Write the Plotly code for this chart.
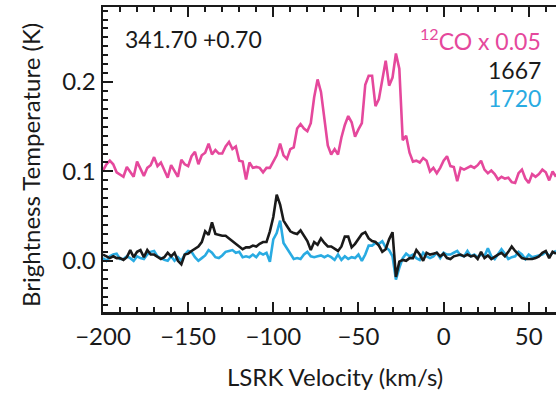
import numpy as np
import plotly.graph_objects as go

velocity = np.arange(-200, 67, 2)  # LSRK velocity (km/s), 134 channels

co12_scaled = [
    0.101, 0.108, 0.112, 0.108, 0.099, 0.096, 0.094, 0.105, 0.099, 0.094,
    0.111, 0.102, 0.095, 0.104, 0.107, 0.116, 0.106, 0.110, 0.101, 0.093,
    0.107, 0.101, 0.094, 0.113, 0.108, 0.106, 0.117, 0.122, 0.108, 0.118,
    0.121, 0.131, 0.119, 0.124, 0.120, 0.120, 0.128, 0.133, 0.125, 0.128,
    0.112, 0.111, 0.091, 0.110, 0.104, 0.105, 0.104, 0.099, 0.104, 0.104,
    0.111, 0.118, 0.131, 0.118, 0.114, 0.125, 0.127, 0.148, 0.153, 0.148,
    0.145, 0.154, 0.183, 0.203, 0.189, 0.158, 0.129, 0.119, 0.125, 0.119,
    0.138, 0.152, 0.162, 0.155, 0.139, 0.147, 0.154, 0.197, 0.207, 0.207,
    0.173, 0.181, 0.205, 0.224, 0.196, 0.205, 0.232, 0.215, 0.135, 0.140,
    0.121, 0.111, 0.112, 0.110, 0.115, 0.112, 0.100, 0.104, 0.098, 0.104,
    0.112, 0.117, 0.106, 0.105, 0.089, 0.104, 0.102, 0.104, 0.106, 0.104,
    0.107, 0.112, 0.102, 0.098, 0.101, 0.097, 0.091, 0.094, 0.092, 0.093,
    0.088, 0.087, 0.098, 0.102, 0.092, 0.087, 0.097, 0.094, 0.097, 0.102,
    0.099, 0.090, 0.100, 0.094,
]

oh1667 = [
    0.007, 0.005, 0.003, 0.005, 0.003, 0.003, 0.001, 0.004, 0.012, 0.004,
    0.010, 0.012, 0.004, 0.012, 0.007, 0.007, 0.004, 0.002, 0.004, 0.009,
    0.005, 0.009, 0.000, -0.004, 0.007, 0.008, 0.011, 0.014, 0.016, 0.021,
    0.033, 0.029, 0.043, 0.030, 0.029, 0.028, 0.028, 0.025, 0.021, 0.019,
    0.016, 0.013, 0.015, 0.015, 0.017, 0.016, 0.019, 0.021, 0.021, 0.033,
    0.049, 0.074, 0.063, 0.045, 0.039, 0.033, 0.031, 0.030, 0.034, 0.028,
    0.022, 0.012, 0.021, 0.018, 0.025, 0.020, 0.016, 0.016, 0.013, 0.011,
    0.016, 0.027, 0.027, 0.015, 0.019, 0.025, 0.030, 0.032, 0.025, 0.022,
    0.021, 0.017, 0.010, 0.013, 0.024, 0.032, -0.018, -0.001, 0.001, 0.000,
    0.003, 0.003, 0.012, 0.007, 0.000, 0.009, 0.007, 0.008, 0.009, 0.005,
    0.008, 0.003, 0.002, 0.005, 0.006, 0.007, 0.005, 0.007, 0.005, 0.006,
    0.002, 0.010, 0.003, 0.006, 0.002, 0.005, 0.007, 0.009, 0.005, 0.010,
    0.016, 0.011, 0.007, 0.003, 0.002, 0.002, 0.002, 0.003, 0.005, 0.009,
    0.011, 0.003, 0.010, 0.008,
]

oh1720 = [
    0.003, 0.000, 0.005, 0.007, 0.008, 0.002, 0.002, 0.005, 0.003, 0.000,
    0.005, 0.003, 0.002, 0.007, 0.010, 0.011, 0.005, 0.003, 0.001, 0.000,
    0.005, 0.000, 0.004, 0.000, 0.007, 0.011, 0.010, 0.004, 0.000, 0.003,
    0.006, 0.012, 0.009, 0.004, 0.003, 0.006, 0.010, 0.011, 0.012, 0.009,
    0.010, 0.004, 0.005, 0.004, 0.007, 0.004, 0.009, 0.007, 0.009, -0.001,
    0.024, 0.031, 0.045, 0.020, 0.014, 0.007, 0.002, 0.003, 0.002, 0.007,
    0.010, 0.005, 0.004, 0.005, 0.006, 0.004, 0.006, 0.004, 0.001, 0.007,
    0.001, 0.005, 0.002, 0.004, 0.003, 0.007, 0.000, 0.007, 0.017, 0.017,
    0.020, 0.019, 0.022, 0.015, 0.012, 0.005, -0.021, -0.008, 0.003, 0.008,
    0.005, 0.007, 0.003, 0.001, 0.009, 0.005, 0.003, 0.005, 0.009, 0.003,
    0.009, 0.007, 0.007, 0.009, 0.011, 0.006, 0.005, 0.011, 0.005, 0.007,
    0.004, 0.007, 0.005, 0.014, 0.005, 0.002, 0.007, 0.013, 0.008, 0.002,
    0.004, 0.005, 0.010, 0.007, 0.002, 0.007, 0.004, 0.005, 0.006, 0.007,
    0.010, 0.005, 0.009, 0.011,
]

x_ticks = [-200, -150, -100, -50, 0, 50]
y_ticks = [0.0, 0.1, 0.2]
y_tick_labels = ["0.0", "0.1", "0.2"]

PINK = "#e5489c"
BLUE = "#29abe2"
BLACK = "#1a1a1a"
FONT = "Lato"

fig = go.Figure()
fig.add_trace(go.Scatter(x=velocity, y=co12_scaled, mode="lines",
                         line=dict(color=PINK, width=2.6), showlegend=False))
fig.add_trace(go.Scatter(x=velocity, y=oh1720, mode="lines",
                         line=dict(color=BLUE, width=2.6), showlegend=False))
fig.add_trace(go.Scatter(x=velocity, y=oh1667, mode="lines",
                         line=dict(color=BLACK, width=2.6), showlegend=False))

W, H = 556, 395
L, R, T, B = 103, 0, 7, 83
pw, ph = W - L - R, H - T - B

def px(x):
    return (x - L) / pw

def py(y):
    return (H - B - y) / ph

fig.update_layout(
    width=W, height=H,
    margin=dict(l=L, r=R, t=T, b=B),
    paper_bgcolor="white", plot_bgcolor="white",
    font=dict(family=FONT, size=24, color=BLACK),
    hovermode=False,
    xaxis=dict(
        range=[-200, 66], tickvals=x_ticks, ticks="inside", ticklen=10,
        tickwidth=2, tickcolor=BLACK, showline=True, linecolor=BLACK,
        linewidth=2.5, mirror="ticks", showgrid=False, zeroline=False,
        ticklabelstandoff=2,
        minor=dict(dtick=10, tick0=0, ticks="inside", ticklen=5,
                   tickwidth=2, tickcolor=BLACK, showgrid=False),
        tickfont=dict(family=FONT, size=24, color=BLACK),
    ),
    yaxis=dict(
        range=[-0.0573, 0.284], tickvals=y_ticks, ticktext=y_tick_labels,
        ticks="inside", ticklen=10, tickwidth=2, tickcolor=BLACK,
        showline=True, linecolor=BLACK, linewidth=2.5, mirror=False,
        showgrid=False, zeroline=False,
        minor=dict(dtick=0.01, tick0=0, ticks="inside", ticklen=5,
                   tickwidth=2, tickcolor=BLACK, showgrid=False),
        tickfont=dict(family=FONT, size=24, color=BLACK),
    ),
    annotations=[
        dict(x=px(123), y=py(39), xref="paper", yref="paper",
             text="341.70 +0.70", showarrow=False, xanchor="left",
             yanchor="middle", font=dict(family=FONT, size=23, color=BLACK)),
        dict(x=px(543), y=py(40), xref="paper", yref="paper",
             text="<sup>12</sup>CO x 0.05", showarrow=False, xanchor="right",
             yanchor="middle", font=dict(family=FONT, size=23, color=PINK)),
        dict(x=px(543), y=py(70), xref="paper", yref="paper",
             text="1667", showarrow=False, xanchor="right",
             yanchor="middle", font=dict(family=FONT, size=23, color=BLACK)),
        dict(x=px(543), y=py(98), xref="paper", yref="paper",
             text="1720", showarrow=False, xanchor="right",
             yanchor="middle", font=dict(family=FONT, size=23, color=BLUE)),
        dict(x=px(335), y=py(376), xref="paper", yref="paper",
             text="LSRK Velocity (km/s)", showarrow=False, xanchor="center",
             yanchor="middle", font=dict(family=FONT, size=24, color=BLACK)),
        dict(x=px(30), y=py(165), xref="paper", yref="paper",
             text="Brightness Temperature (K)", showarrow=False,
             textangle=-90, xanchor="center", yanchor="middle",
             font=dict(family=FONT, size=24, color=BLACK)),
    ],
)

fig.write_html(
    "out.html",
    config={"displayModeBar": False, "staticPlot": True},
    post_script="document.body.style.margin='0px';document.body.style.padding='0px';document.body.style.overflow='hidden';",
)
